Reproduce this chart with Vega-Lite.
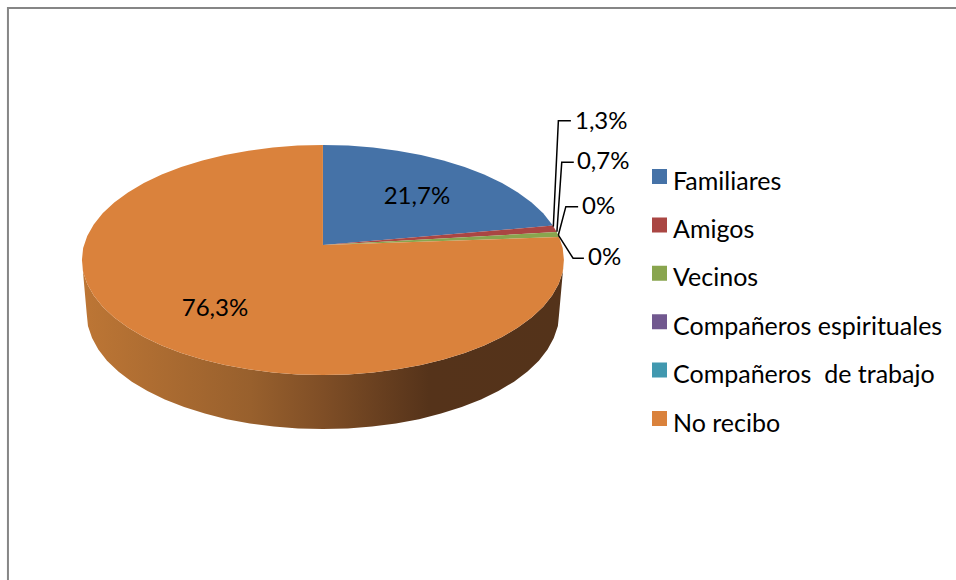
{"$schema":"https://vega.github.io/schema/vega-lite/v6.json","width":956,"height":580,"padding":0,"autosize":{"type":"fit","contains":"padding"},"background":"white","view":{"stroke":null},
"config":{"font":"Lato"},
"datasets":{
"pared":[{"o":0,"x":1,"y":0},{"o":1,"x":0.995,"y":-0.105},{"o":2,"x":0.978,"y":-0.208},{"o":3,"x":0.951,"y":-0.309},{"o":4,"x":0.914,"y":-0.407},{"o":5,"x":0.866,"y":-0.5},{"o":6,"x":0.809,"y":-0.588},{"o":7,"x":0.743,"y":-0.669},{"o":8,"x":0.669,"y":-0.743},{"o":9,"x":0.588,"y":-0.809},{"o":10,"x":0.5,"y":-0.866},{"o":11,"x":0.407,"y":-0.914},{"o":12,"x":0.309,"y":-0.951},{"o":13,"x":0.208,"y":-0.978},{"o":14,"x":0.105,"y":-0.995},{"o":15,"x":0,"y":-1},{"o":16,"x":-0.105,"y":-0.995},{"o":17,"x":-0.208,"y":-0.978},{"o":18,"x":-0.309,"y":-0.951},{"o":19,"x":-0.407,"y":-0.914},{"o":20,"x":-0.5,"y":-0.866},{"o":21,"x":-0.588,"y":-0.809},{"o":22,"x":-0.669,"y":-0.743},{"o":23,"x":-0.743,"y":-0.669},{"o":24,"x":-0.809,"y":-0.588},{"o":25,"x":-0.866,"y":-0.5},{"o":26,"x":-0.914,"y":-0.407},{"o":27,"x":-0.951,"y":-0.309},{"o":28,"x":-0.978,"y":-0.208},{"o":29,"x":-0.995,"y":-0.105},{"o":30,"x":-1,"y":0},
{"o":31,"x":-0.98,"y":-0.47},{"o":32,"x":-0.975,"y":-0.575},{"o":33,"x":-0.958,"y":-0.678},{"o":34,"x":-0.932,"y":-0.779},{"o":35,"x":-0.896,"y":-0.877},{"o":36,"x":-0.849,"y":-0.97},{"o":37,"x":-0.793,"y":-1.058},{"o":38,"x":-0.728,"y":-1.139},{"o":39,"x":-0.656,"y":-1.213},{"o":40,"x":-0.576,"y":-1.279},{"o":41,"x":-0.49,"y":-1.336},{"o":42,"x":-0.399,"y":-1.384},{"o":43,"x":-0.303,"y":-1.421},{"o":44,"x":-0.204,"y":-1.448},{"o":45,"x":-0.103,"y":-1.465},{"o":46,"x":0,"y":-1.47},{"o":47,"x":0.103,"y":-1.465},{"o":48,"x":0.204,"y":-1.448},{"o":49,"x":0.303,"y":-1.421},{"o":50,"x":0.399,"y":-1.384},{"o":51,"x":0.49,"y":-1.336},{"o":52,"x":0.576,"y":-1.279},{"o":53,"x":0.656,"y":-1.213},{"o":54,"x":0.728,"y":-1.139},{"o":55,"x":0.793,"y":-1.058},{"o":56,"x":0.849,"y":-0.97},{"o":57,"x":0.896,"y":-0.877},{"o":58,"x":0.932,"y":-0.779},{"o":59,"x":0.958,"y":-0.678},{"o":60,"x":0.975,"y":-0.575},{"o":61,"x":0.98,"y":-0.47}],
"sectores":[
{"s":"Familiares","o":0,"x":0,"y":0.13},{"s":"Familiares","o":1,"x":0,"y":1},{"s":"Familiares","o":2,"x":0.105,"y":0.995},{"s":"Familiares","o":3,"x":0.208,"y":0.978},{"s":"Familiares","o":4,"x":0.309,"y":0.951},{"s":"Familiares","o":5,"x":0.407,"y":0.914},{"s":"Familiares","o":6,"x":0.5,"y":0.866},{"s":"Familiares","o":7,"x":0.588,"y":0.809},{"s":"Familiares","o":8,"x":0.669,"y":0.743},{"s":"Familiares","o":9,"x":0.743,"y":0.669},{"s":"Familiares","o":10,"x":0.809,"y":0.588},{"s":"Familiares","o":11,"x":0.866,"y":0.5},{"s":"Familiares","o":12,"x":0.914,"y":0.407},{"s":"Familiares","o":13,"x":0.954,"y":0.299},
{"s":"Amigos","o":0,"x":0,"y":0.13},{"s":"Amigos","o":1,"x":0.954,"y":0.299},{"s":"Amigos","o":2,"x":0.97,"y":0.243},
{"s":"Vecinos","o":0,"x":0,"y":0.13},{"s":"Vecinos","o":1,"x":0.97,"y":0.243},{"s":"Vecinos","o":2,"x":0.98,"y":0.2},
{"s":"No recibo","o":0,"x":0,"y":0.13},{"s":"No recibo","o":1,"x":0.98,"y":0.2},{"s":"No recibo","o":2,"x":0.995,"y":0.105},{"s":"No recibo","o":3,"x":1,"y":0},{"s":"No recibo","o":4,"x":0.995,"y":-0.105},{"s":"No recibo","o":5,"x":0.978,"y":-0.208},{"s":"No recibo","o":6,"x":0.951,"y":-0.309},{"s":"No recibo","o":7,"x":0.914,"y":-0.407},{"s":"No recibo","o":8,"x":0.866,"y":-0.5},{"s":"No recibo","o":9,"x":0.809,"y":-0.588},{"s":"No recibo","o":10,"x":0.743,"y":-0.669},{"s":"No recibo","o":11,"x":0.669,"y":-0.743},{"s":"No recibo","o":12,"x":0.588,"y":-0.809},{"s":"No recibo","o":13,"x":0.5,"y":-0.866},{"s":"No recibo","o":14,"x":0.407,"y":-0.914},{"s":"No recibo","o":15,"x":0.309,"y":-0.951},{"s":"No recibo","o":16,"x":0.208,"y":-0.978},{"s":"No recibo","o":17,"x":0.105,"y":-0.995},{"s":"No recibo","o":18,"x":0,"y":-1},{"s":"No recibo","o":19,"x":-0.105,"y":-0.995},{"s":"No recibo","o":20,"x":-0.208,"y":-0.978},{"s":"No recibo","o":21,"x":-0.309,"y":-0.951},{"s":"No recibo","o":22,"x":-0.407,"y":-0.914},{"s":"No recibo","o":23,"x":-0.5,"y":-0.866},{"s":"No recibo","o":24,"x":-0.588,"y":-0.809},{"s":"No recibo","o":25,"x":-0.669,"y":-0.743},{"s":"No recibo","o":26,"x":-0.743,"y":-0.669},{"s":"No recibo","o":27,"x":-0.809,"y":-0.588},{"s":"No recibo","o":28,"x":-0.866,"y":-0.5},{"s":"No recibo","o":29,"x":-0.914,"y":-0.407},{"s":"No recibo","o":30,"x":-0.951,"y":-0.309},{"s":"No recibo","o":31,"x":-0.978,"y":-0.208},{"s":"No recibo","o":32,"x":-0.995,"y":-0.105},{"s":"No recibo","o":33,"x":-1,"y":0},{"s":"No recibo","o":34,"x":-0.995,"y":0.105},{"s":"No recibo","o":35,"x":-0.978,"y":0.208},{"s":"No recibo","o":36,"x":-0.951,"y":0.309},{"s":"No recibo","o":37,"x":-0.914,"y":0.407},{"s":"No recibo","o":38,"x":-0.866,"y":0.5},{"s":"No recibo","o":39,"x":-0.809,"y":0.588},{"s":"No recibo","o":40,"x":-0.743,"y":0.669},{"s":"No recibo","o":41,"x":-0.669,"y":0.743},{"s":"No recibo","o":42,"x":-0.588,"y":0.809},{"s":"No recibo","o":43,"x":-0.5,"y":0.866},{"s":"No recibo","o":44,"x":-0.407,"y":0.914},{"s":"No recibo","o":45,"x":-0.309,"y":0.951},{"s":"No recibo","o":46,"x":-0.208,"y":0.978},{"s":"No recibo","o":47,"x":-0.105,"y":0.995},{"s":"No recibo","o":48,"x":0,"y":1}],
"guias":[
{"g":"a","o":0,"x":0.956,"y":0.29},{"g":"a","o":1,"x":0.977,"y":1.211},{"g":"a","o":2,"x":1.029,"y":1.211},
{"g":"b","o":0,"x":0.971,"y":0.246},{"g":"b","o":1,"x":0.991,"y":0.849},{"g":"b","o":2,"x":1.041,"y":0.849},
{"g":"c","o":0,"x":0.977,"y":0.217},{"g":"c","o":1,"x":1.008,"y":0.464},{"g":"c","o":2,"x":1.059,"y":0.464},
{"g":"d","o":0,"x":0.977,"y":0.217},{"g":"d","o":1,"x":1.038,"y":0.015},{"g":"d","o":2,"x":1.083,"y":0.015}],
"marco":[{"o":0,"x":-1.307,"y":-2.783},{"o":1,"x":-1.307,"y":2.191},{"o":2,"x":2.627,"y":2.191}],
"externas":[{"t":"1,3%","x":1.046,"y":1.217},{"t":"0,7%","x":1.054,"y":0.861},{"t":"0%","x":1.075,"y":0.478},{"t":"0%","x":1.1,"y":0.026}],
"internas":[{"t":"21,7%","x":0.39,"y":0.557},{"t":"76,3%","x":-0.448,"y":-0.409}]
},
"encoding":{
"x":{"field":"x","type":"quantitative","axis":null,"scale":{"domain":[-1.34,2.627],"nice":false,"zero":false}},
"y":{"field":"y","type":"quantitative","axis":null,"scale":{"domain":[-2.783,2.261],"nice":false,"zero":false}}
},
"layer":[
{"data":{"name":"marco"},"mark":{"type":"line","stroke":"#868686","strokeWidth":2,"clip":true},"encoding":{"order":{"field":"o"}}},
{"data":{"name":"pared"},"mark":{"type":"line","filled":true,"strokeWidth":0,"fill":{"gradient":"linear","x1":0,"x2":1,"y1":0,"y2":0,"stops":[{"offset":0,"color":"#BD7635"},{"offset":0.35,"color":"#98602D"},{"offset":0.5,"color":"#7F4E26"},{"offset":0.72,"color":"#55331A"},{"offset":1,"color":"#54331A"}]}},"encoding":{"order":{"field":"o"}}},
{"data":{"name":"sectores"},"mark":{"type":"line","filled":true,"strokeWidth":0},"encoding":{"order":{"field":"o"},
"color":{"field":"s","type":"nominal","scale":{"domain":["Familiares","Amigos","Vecinos","Compañeros espirituales","Compañeros \u00a0de trabajo","No recibo"],"range":["#4572A7","#AA4643","#89A54E","#71588F","#4198AF","#DA823C"]},
"legend":{"title":null,"orient":"none","legendX":647,"legendY":164.5,"symbolType":"square","symbolSize":225,"symbolStrokeWidth":0,"symbolOpacity":1,"labelFontSize":25,"labelFont":"Lato","labelColor":"#000000","labelLimit":400,"rowPadding":18.4,"labelOffset":1,"clipHeight":24,"encode":{"labels":{"update":{"dy":{"value":5}}}}}}}},
{"data":{"name":"guias"},"mark":{"type":"line","stroke":"#000000","strokeWidth":1.5},"encoding":{"order":{"field":"o"},"detail":{"field":"g"}}},
{"data":{"name":"externas"},"mark":{"type":"text","align":"left","baseline":"middle","fontSize":24,"font":"Lato","color":"#000000","dy":1.5},"encoding":{"text":{"field":"t"}}},
{"data":{"name":"internas"},"mark":{"type":"text","align":"center","baseline":"middle","fontSize":24,"font":"Lato","color":"#000000","dy":1.5},"encoding":{"text":{"field":"t"}}}
]}
